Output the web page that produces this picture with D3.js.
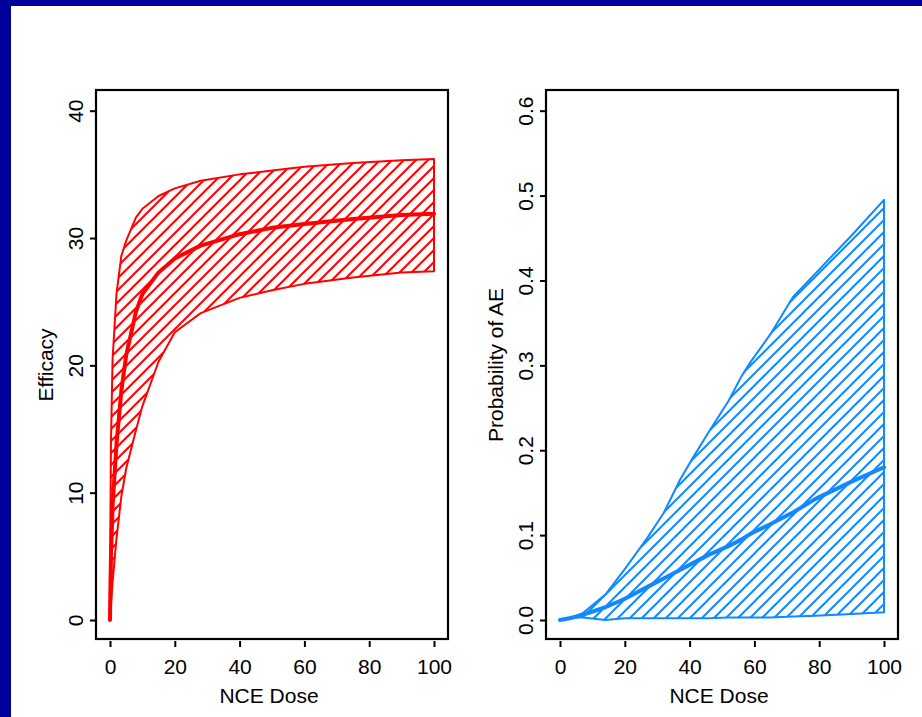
<!DOCTYPE html>
<html>
<head>
<meta charset="utf-8">
<script src="https://cdn.jsdelivr.net/npm/d3@7"></script>
<style>
  body { margin: 0; background: #fff; }
  svg { display: block; font-family: "Liberation Sans", Arial, sans-serif; }
</style>
</head>
<body>
<div id="chart-area"></div>
<script>
// efficacy panel (dose grid + median / lower / upper band)
var effDose = [0, 0.1, 0.3, 0.8, 2, 3.5, 5, 8, 10, 15, 20, 28, 40, 50, 60, 75, 90, 100];
var effMid  = [0, 2, 5, 9, 13.8, 18, 20.8, 24.2, 25.6, 27.3, 28.4, 29.4, 30.3, 30.8, 31.1, 31.5, 31.8, 31.9];
var effLow  = [0, 0.5, 1.2, 3, 6.4, 9.7, 11.9, 14.9, 16.8, 20.3, 22.6, 24.1, 25.3, 25.9, 26.4, 26.9, 27.3, 27.4];
var effHigh = [0, 7, 14, 20.5, 25.6, 28.6, 29.8, 31.6, 32.3, 33.3, 33.9, 34.5, 35.0, 35.3, 35.6, 35.9, 36.1, 36.2];
var effTicks = [0, 10, 20, 30, 40];

// adverse event panel
var aeDose = [0, 3, 7, 14, 20, 27, 32, 37, 41, 46, 52, 56, 59, 65, 72, 79, 90, 100];
var aeMid  = [0, 0.002, 0.006, 0.015, 0.025, 0.039, 0.049, 0.059, 0.067, 0.077, 0.087, 0.095, 0.102, 0.113, 0.127, 0.143, 0.163, 0.180];
var aeLow  = [0, 0.003, 0.003, 0, 0.002, 0.002, 0.002, 0.002, 0.002, 0.002, 0.003, 0.003, 0.003, 0.003, 0.004, 0.005, 0.007, 0.009];
var aeHigh = [0, 0.002, 0.008, 0.030, 0.060, 0.097, 0.126, 0.165, 0.191, 0.222, 0.258, 0.287, 0.305, 0.337, 0.381, 0.409, 0.453, 0.495];
var aeTicks = [0, 0.1, 0.2, 0.3, 0.4, 0.5, 0.6];

var doseTicks = [0, 20, 40, 60, 80, 100];

var W = 922, H = 717;

var svg = d3.select("#chart-area")
  .append("svg")
    .attr("width", W)
    .attr("height", H);

// navy slide border
svg.append("rect").attr("x", 0).attr("y", 0).attr("width", W).attr("height", 6).attr("fill", "#00009c");
svg.append("rect").attr("x", 0).attr("y", 0).attr("width", 11).attr("height", H).attr("fill", "#00009c");

var defs = svg.append("defs");

function hatch(id, color) {
  var p = defs.append("pattern")
    .attr("id", id)
    .attr("patternUnits", "userSpaceOnUse")
    .attr("width", 12)
    .attr("height", 12);
  p.append("path")
    .attr("d", "M-3,3 L3,-3 M0,12 L12,0 M9,15 L15,9")
    .attr("stroke", color)
    .attr("stroke-width", 2);
}
hatch("hatchRed", "#ff0000");
hatch("hatchBlue", "#1188ff");

function panel(opt) {
  var box = opt.box;
  var x = d3.scaleLinear().domain([0, 100]).range([opt.x0, opt.x1]);
  var y = d3.scaleLinear().domain(opt.yDomain).range([opt.y0, opt.y1]);

  var pts = opt.dose.map(function(d, i) {
    return { d: d, lo: opt.low[i], hi: opt.high[i], mid: opt.mid[i] };
  });

  var area = d3.area()
    .x(function(d) { return x(d.d); })
    .y0(function(d) { return y(d.lo); })
    .y1(function(d) { return y(d.hi); });

  var g = svg.append("g");

  g.append("path")
    .datum(pts)
    .attr("d", area)
    .attr("fill", "url(#" + opt.hatch + ")")
    .attr("stroke", opt.color)
    .attr("stroke-width", 2)
    .attr("stroke-linejoin", "round");

  g.append("path")
    .datum(pts)
    .attr("d", d3.line().x(function(d) { return x(d.d); }).y(function(d) { return y(d.mid); }))
    .attr("fill", "none")
    .attr("stroke", opt.color)
    .attr("stroke-width", 4)
    .attr("stroke-linejoin", "round")
    .attr("stroke-linecap", "round");

  // frame
  g.append("rect")
    .attr("x", box.left).attr("y", box.top)
    .attr("width", box.right - box.left)
    .attr("height", box.bottom - box.top)
    .attr("fill", "none")
    .attr("stroke", "#000")
    .attr("stroke-width", 2.2);

  // x axis
  var xa = g.append("g")
    .attr("transform", "translate(0," + (box.bottom + 2) + ")")
    .call(d3.axisBottom(x).tickValues(doseTicks).tickSize(6).tickPadding(12).tickSizeOuter(0));
  xa.select(".domain").remove();
  xa.selectAll("line").attr("stroke-width", 2);
  xa.selectAll("text").attr("font-size", 21).attr("font-family", null).attr("fill", "#000");

  // y axis, labels turned like the S-Plus style
  var ya = g.append("g")
    .attr("transform", "translate(" + box.left + ",0)")
    .call(d3.axisLeft(y).tickValues(opt.yTicks).tickFormat(opt.fmt).tickSize(6).tickSizeOuter(0));
  ya.select(".domain").remove();
  ya.selectAll("line").attr("stroke-width", 2);
  ya.selectAll("text")
    .attr("font-size", 21)
    .attr("font-family", null)
    .attr("fill", "#000")
    .attr("x", null).attr("dy", null)
    .attr("text-anchor", "middle")
    .attr("transform", "translate(-13,0) rotate(-90)");

  g.append("text")
    .attr("x", (box.left + box.right) / 2 - 3)
    .attr("y", 703)
    .attr("text-anchor", "middle")
    .attr("font-size", 21)
    .text("NCE Dose");

  g.append("text")
    .attr("transform", "translate(" + opt.titleX + ",365) rotate(-90)")
    .attr("text-anchor", "middle")
    .attr("font-size", 21)
    .text(opt.title);
}

panel({
  box: { left: 96, right: 448, top: 90, bottom: 639 },
  x0: 110, x1: 434, y0: 620, y1: 110.7,
  yDomain: [0, 40], yTicks: effTicks, fmt: d3.format("d"),
  dose: effDose, mid: effMid, low: effLow, high: effHigh,
  color: "#ff0000", hatch: "hatchRed",
  title: "Efficacy", titleX: 53
});

panel({
  box: { left: 546, right: 898, top: 90, bottom: 639 },
  x0: 560, x1: 884, y0: 620, y1: 110.7,
  yDomain: [0, 0.6], yTicks: aeTicks, fmt: d3.format(".1f"),
  dose: aeDose, mid: aeMid, low: aeLow, high: aeHigh,
  color: "#1188ff", hatch: "hatchBlue",
  title: "Probability of AE", titleX: 503
});
</script>
</body>
</html>
